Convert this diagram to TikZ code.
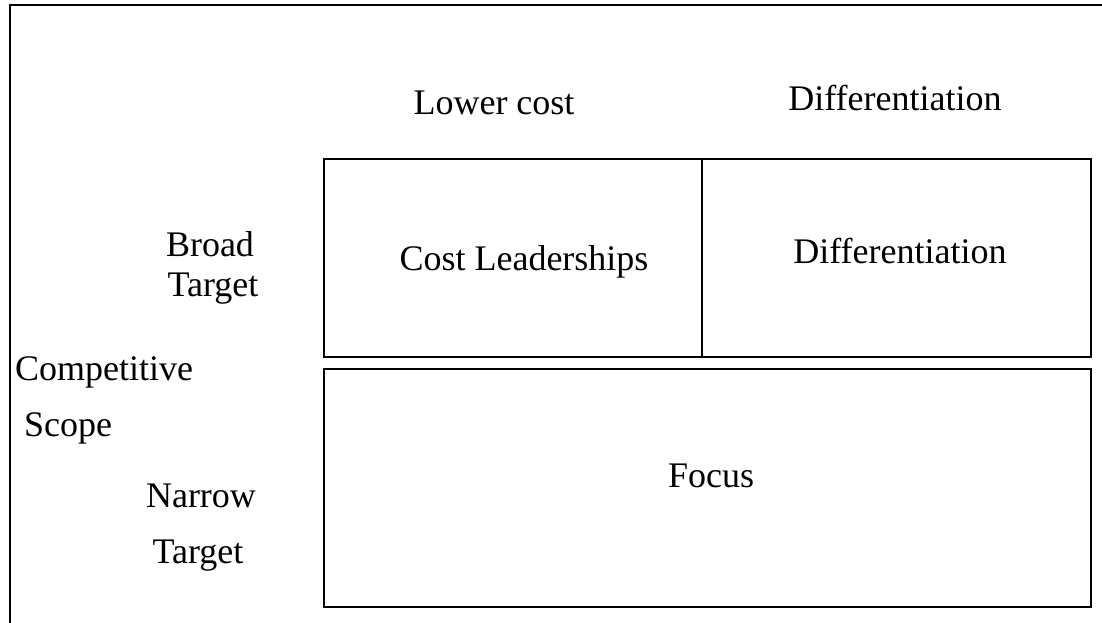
\documentclass[tikz,border=0pt]{standalone}
\usepackage{fontspec}
\setmainfont{Liberation Serif}
\begin{document}
\begin{tikzpicture}[x=1pt,y=-1pt,
  lbl/.style={inner sep=0pt,anchor=base,font=\fontsize{36}{43}\selectfont},
  cell/.style={draw,line width=1.6pt,inner sep=0pt}]
\useasboundingbox (0,0) rectangle (1102,623);
% outer frame
\coordinate (fb) at (10,623);
\coordinate (ftl) at (10,5);
\coordinate (ftr) at (1102,5);
\draw[line width=1.8pt] (fb) -- (ftl) -- (ftr);
% cells
\node[cell,minimum width=378pt,minimum height=198pt] (cl) at (513,258) {};
\node[cell,minimum width=389pt,minimum height=198pt] (df) at (896.5,258) {};
\node[cell,minimum width=767pt,minimum height=238pt] (fc) at (707.5,488) {};
% labels
\node[lbl] (lc) at (494,115) {Lower cost};
\node[lbl] (dt) at (895,111) {Differentiation};
\node[lbl] (br) at (210,256) {Broad};
\node[lbl] (bt) at (213,296) {Target};
\node[lbl] (tcl) at (524,270) {Cost Leaderships};
\node[lbl] (tdf) at (900,263) {Differentiation};
\node[lbl] (cp) at (104,380) {Competitive};
\node[lbl] (sc) at (68,436) {Scope};
\node[lbl] (tfc) at (711,487) {Focus};
\node[lbl] (nr) at (201,507) {Narrow};
\node[lbl] (nt) at (198,563) {Target};
\end{tikzpicture}
\end{document}
